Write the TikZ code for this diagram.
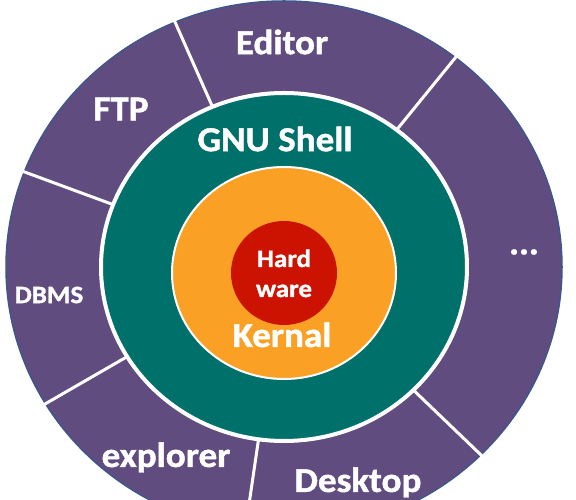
\documentclass[tikz,border=0pt]{standalone}
\usepackage{fontspec}
\setmainfont{Carlito}[BoldFeatures={FakeBold=1.2}]
\definecolor{apppurple}{RGB}{96,76,126}
\definecolor{appedge}{RGB}{62,86,140}
\definecolor{shellteal}{RGB}{0,112,106}
\definecolor{kernalorange}{RGB}{250,160,36}
\definecolor{hwred}{RGB}{204,18,0}
\begin{document}
\begin{tikzpicture}[
    % One unit is one pixel of the picture
    x=1pt, y=1pt,
    % Define styles for the elements
    ring_app/.style={fill=apppurple, draw=appedge, line width=1.5pt},
    ring_shell/.style={fill=shellteal, draw=white, line width=4pt},
    ring_kernal/.style={fill=kernalorange, draw=white, line width=2pt},
    core_hw/.style={fill=hwred},
    divider/.style={draw=white, line width=3pt},
    big_label/.style={text=white, xscale=1.06, font=\bfseries\fontsize{35}{40}\selectfont},
    small_label/.style={text=white, xscale=1.08, font=\bfseries\fontsize{25}{30}\selectfont}
  ]

  % --- Step 1: Fix the frame of the picture ---
  \useasboundingbox (0,0) rectangle (576,500);
  \clip (0,0) rectangle (576,500);

  % Centres of the rings
  \coordinate (M) at (284,233);
  \coordinate (K) at (284,227);

  % --- Step 2: Draw the rings from the outside in ---
  \path[ring_app] (M) ellipse [x radius=278, y radius=266];

  % Dividers between the applications
  \foreach \ang in {52,113,159,211,262,315}
    \draw[divider] (M) ++(\ang:184 and 175) -- ++(\ang:100 and 96);

  \path[ring_shell] (M) ellipse [x radius=183, y radius=174];
  \path[ring_kernal] (K) ellipse [x radius=112, y radius=106];
  \path[core_hw] (K) ellipse [x radius=53, y radius=52];

  % --- Step 3: Put the labels in ---
  \node[big_label] (editor) at (282,458) {Editor};
  \node[big_label] (ftp) at (121,391) {FTP};
  \node[small_label] (dbms) at (49,205) {DBMS};
  \node[big_label, anchor=base] (explorer) at (166,33) {explorer};
  \node[big_label, anchor=base] (desktop) at (358,8) {Desktop};
  \node[big_label] (more) at (524,248) {...};

  \node[big_label] (shell) at (275,361) {GNU Shell};
  \node[big_label, anchor=base] (kernal) at (282,153) {Kernal};
  \node[small_label, anchor=base] (hard) at (284,233) {Hard};
  \node[small_label, anchor=base] (ware) at (284,203) {ware};

\end{tikzpicture}
\end{document}
